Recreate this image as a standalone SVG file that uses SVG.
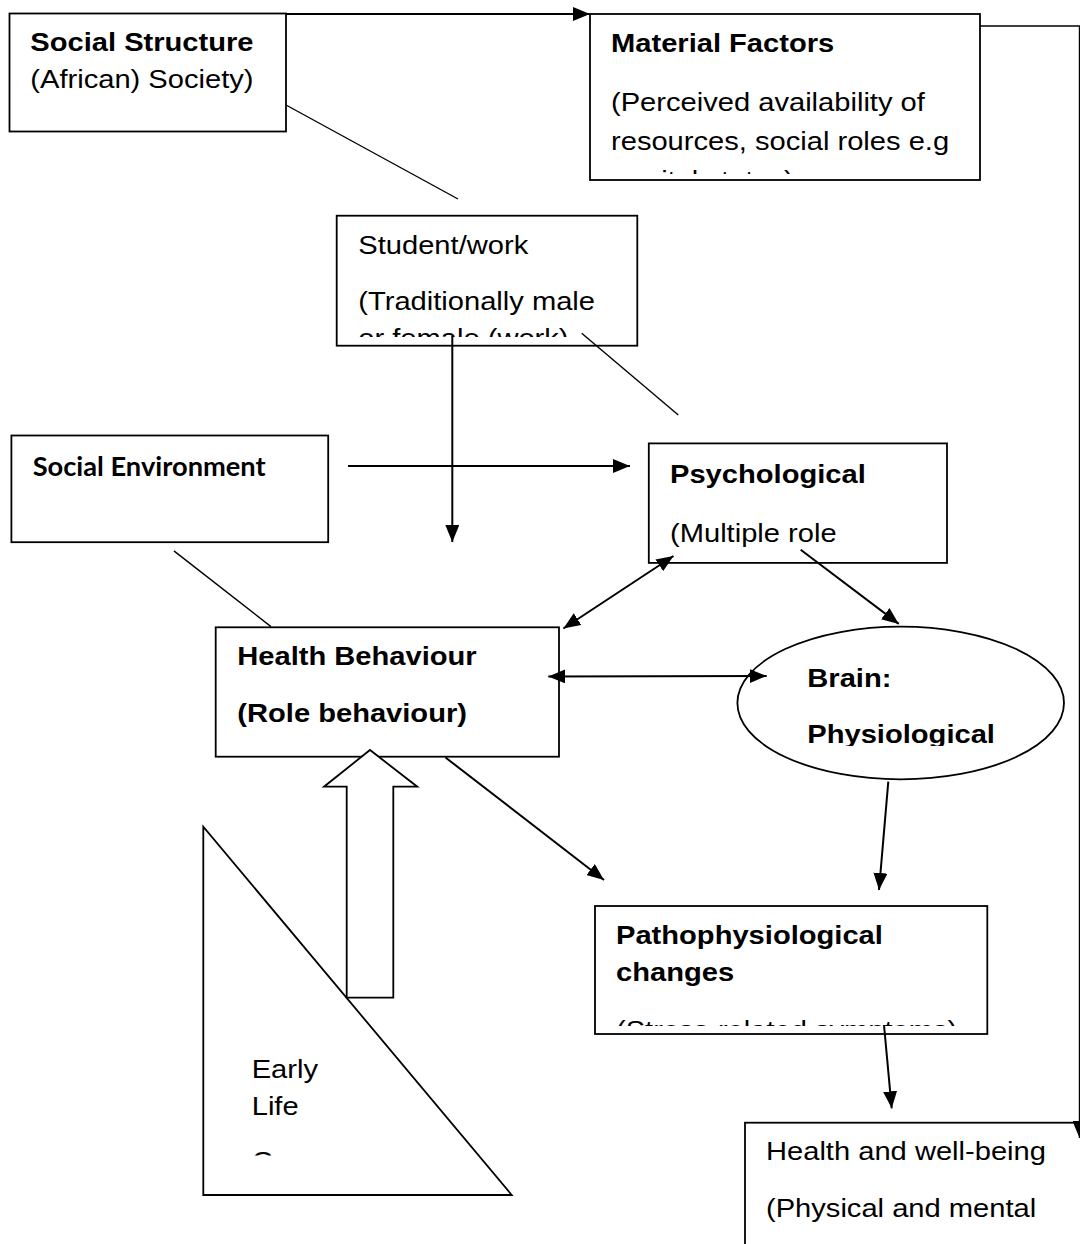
<svg xmlns="http://www.w3.org/2000/svg" width="1080" height="1244" viewBox="0 0 1080 1244">
<style>
.box{fill:#fff;stroke:#000;stroke-width:1.8}
.t{font-family:"Liberation Sans",Arial,Helvetica,sans-serif;font-size:25px;fill:#000}
.b{font-weight:bold}
.cal{font-family:Lato,"Open Sans",Calibri,sans-serif;font-weight:bold;font-size:26px;fill:#000}
.ln{fill:none;stroke:#000;stroke-width:1.4}
.ar{fill:none;stroke:#000;stroke-width:2}
</style>
<defs>
<marker id="ah" viewBox="0 0 17 14" refX="17" refY="7" markerWidth="17" markerHeight="14" markerUnits="userSpaceOnUse" orient="auto-start-reverse">
<path d="M0,0 L17,7 L0,14 Z" fill="#000"/>
</marker>
<clipPath id="cMat"><rect x="590" y="14" width="390" height="160"/></clipPath>
<clipPath id="cStu"><rect x="337" y="216" width="300" height="121"/></clipPath>
<clipPath id="cBrain"><rect x="737" y="627" width="327" height="119"/></clipPath>
<clipPath id="cPat"><rect x="595" y="906" width="392" height="120"/></clipPath>
<clipPath id="cEarly"><rect x="204" y="827" width="308" height="328.5"/></clipPath>
</defs>

<g id="social-structure">
<rect class="box" x="9.5" y="13.5" width="276.5" height="118"/>
<text class="t b" transform="translate(30.3 51) scale(1.165 1)">Social Structure</text>
<text class="t" transform="translate(30.3 87.8) scale(1.165 1)">(African) Society)</text>
</g>

<g id="material-factors">
<rect class="box" x="590" y="14" width="390" height="166"/>
<g clip-path="url(#cMat)">
<text class="t b" transform="translate(611 52.3) scale(1.165 1)">Material Factors</text>
<text class="t" transform="translate(611 110.9) scale(1.165 1)">(Perceived availability of</text>
<text class="t" transform="translate(611 149.8) scale(1.165 1)">resources, social roles e.g</text>
<text class="t" transform="translate(611 188.8) scale(1.165 1)">marital status)</text>
</g>
</g>

<g id="student-work">
<rect class="box" x="336.7" y="215.7" width="300.6" height="130"/>
<g clip-path="url(#cStu)">
<text class="t" transform="translate(358.3 254) scale(1.165 1)">Student/work</text>
<text class="t" transform="translate(358.3 310) scale(1.165 1)">(Traditionally male</text>
<text class="t" transform="translate(358.3 347) scale(1.165 1)">or female (work)</text>
</g>
</g>

<g id="social-environment">
<rect class="box" x="11.4" y="435.5" width="316.8" height="106.7"/>
<text class="cal" x="32.7" y="476" textLength="233" lengthAdjust="spacingAndGlyphs">Social Environment</text>
</g>

<g id="psychological">
<rect class="box" x="648.8" y="443.4" width="298.2" height="119.5"/>
<text class="t b" transform="translate(670 483) scale(1.165 1)">Psychological</text>
<text class="t" transform="translate(670 541.6) scale(1.165 1)">(Multiple role</text>
</g>

<g id="health-behaviour">
<rect class="box" x="215.7" y="627.3" width="343.3" height="129.4"/>
<text class="t b" transform="translate(237.3 665) scale(1.165 1)">Health Behaviour</text>
<text class="t b" transform="translate(237.3 721.7) scale(1.165 1)">(Role behaviour)</text>
</g>

<g id="brain">
<ellipse class="box" cx="900.7" cy="703" rx="163.3" ry="76.3"/>
<g clip-path="url(#cBrain)">
<text class="t b" transform="translate(807.3 686.7) scale(1.165 1)">Brain:</text>
<text class="t b" transform="translate(807.3 743.3) scale(1.165 1)">Physiological</text>
</g>
</g>

<g id="early-life">
<path class="box" d="M203.3,826.7 L203.3,1195 L511.7,1195 Z"/>
<g clip-path="url(#cEarly)">
<text class="t" transform="translate(251.7 1078.3) scale(1.165 1)">Early</text>
<text class="t" transform="translate(251.7 1115) scale(1.165 1)">Life</text>
<text class="t" transform="translate(251.7 1170) scale(1.165 1)">Course</text>
</g>
</g>

<g id="block-arrow">
<path class="box" d="M346.7,997.7 L346.7,786.7 L324,786.7 L370,750 L417.3,786.7 L393.3,786.7 L393.3,997.7 Z"/>
</g>

<g id="pathophysiological">
<rect class="box" x="595" y="906" width="392.3" height="128"/>
<g clip-path="url(#cPat)">
<text class="t b" transform="translate(616 944.3) scale(1.165 1)">Pathophysiological</text>
<text class="t b" transform="translate(616 980.7) scale(1.165 1)">changes</text>
<text class="t" transform="translate(616 1038.5) scale(1.165 1)">(Stress-related symptoms)</text>
</g>
</g>

<g id="health-wellbeing">
<rect class="box" x="745" y="1122.7" width="400" height="200"/>
<text class="t" transform="translate(766 1160) scale(1.165 1)">Health and well-being</text>
<text class="t" transform="translate(766 1216.7) scale(1.165 1)">(Physical and mental</text>
</g>

<g id="connectors">
<line class="ar" x1="286" y1="14" x2="590" y2="14" marker-end="url(#ah)"/>
<polyline class="ln" points="980,26 1079.5,26 1079.5,1138" marker-end="url(#ah)"/>
<line class="ln" x1="286" y1="105" x2="458" y2="199"/>
<line class="ar" x1="452.3" y1="336" x2="452.3" y2="542" marker-end="url(#ah)"/>
<line class="ln" x1="581.7" y1="333.3" x2="678.3" y2="415"/>
<line class="ar" x1="348" y1="466" x2="630" y2="466" marker-end="url(#ah)"/>
<line class="ln" x1="173.9" y1="550.9" x2="271" y2="626.6"/>
<line class="ar" x1="563.4" y1="628.5" x2="673.5" y2="556" marker-start="url(#ah)" marker-end="url(#ah)"/>
<line class="ar" x1="800.7" y1="549.8" x2="898.8" y2="623.9" marker-end="url(#ah)"/>
<line class="ar" x1="548.3" y1="676.5" x2="766.7" y2="676" marker-start="url(#ah)" marker-end="url(#ah)"/>
<line class="ar" x1="888.3" y1="781.7" x2="879" y2="890" marker-end="url(#ah)"/>
<line class="ar" x1="445.5" y1="757.5" x2="604" y2="880" marker-end="url(#ah)"/>
<line class="ar" x1="884" y1="1025" x2="891.7" y2="1108.3" marker-end="url(#ah)"/>
</g>
</svg>
